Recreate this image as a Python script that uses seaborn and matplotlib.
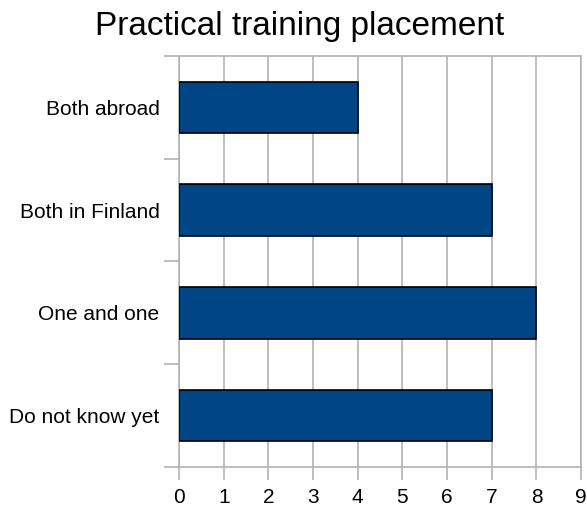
import numpy as np
import pandas as pd
import matplotlib
matplotlib.use("Agg")
import matplotlib.pyplot as plt
import seaborn as sns

categories = ["Both abroad", "Both in Finland", "One and one", "Do not know yet"]
counts = [4, 7, 8, 7]
x_ticks = list(range(0, 10))

df = pd.DataFrame({"placement": categories, "count": counts})

sns.set_style("white")
plt.rcParams["font.family"] = ["Liberation Sans", "DejaVu Sans"]
plt.rcParams["text.color"] = "black"
plt.rcParams["xtick.color"] = "black"
plt.rcParams["ytick.color"] = "black"

grid_grey = "#b3b3b3"

fig = plt.figure(figsize=(5.87, 5.09), dpi=100)
ax = fig.add_axes([0.305, 0.0825, 0.685, 0.8075])

sns.barplot(data=df, x="count", y="placement", orient="h", color="#004586",
            saturation=1, width=0.5, edgecolor="black", linewidth=1.2,
            zorder=3, ax=ax)

ax.set_xlim(0, 9)
ax.set_ylim(3.5, -0.5)
ax.set_xticks(x_ticks)
ax.set_xticklabels([str(t) for t in x_ticks], fontsize=15)
ax.xaxis.grid(True, color=grid_grey, linewidth=1.2, zorder=0)
ax.set_axisbelow(True)

# category separators as ticks on the y axis
ax.set_yticks(np.arange(-0.5, 4.0, 1.0), minor=True)
ax.tick_params(axis="y", which="major", left=False, length=0, pad=14, labelsize=15)
ax.tick_params(axis="y", which="minor", left=True, length=11, width=1.2, color=grid_grey, direction="out")
ax.tick_params(axis="x", which="major", bottom=True, length=9, width=1.2, color=grid_grey,
               labelcolor="black", direction="out", pad=6)

for side in ["top", "right", "left", "bottom"]:
    ax.spines[side].set_color(grid_grey)
    ax.spines[side].set_linewidth(1.2)

ax.set_xlabel("")
ax.set_ylabel("")
fig.suptitle("Practical training placement", fontsize=24, x=0.51, y=0.978, color="black")

fig.savefig("out.png", dpi=100)
